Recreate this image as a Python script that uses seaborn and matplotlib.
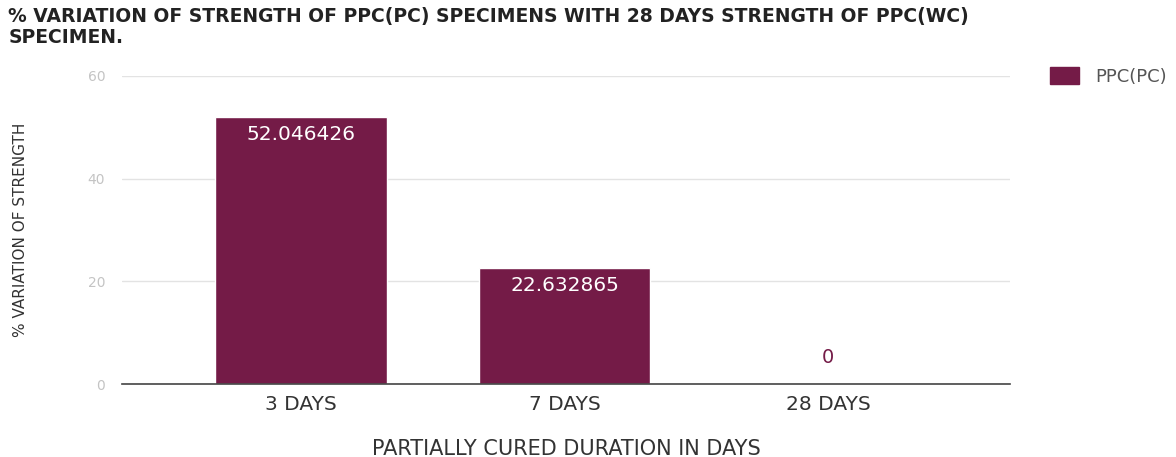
import matplotlib
matplotlib.use("Agg")
import matplotlib.pyplot as plt
from matplotlib.patches import Patch
import seaborn as sns
import pandas as pd

# Data
durations = ["3 DAYS", "7 DAYS", "28 DAYS"]
variation = [52.046426, 22.632865, 0.0]
value_labels = ["52.046426", "22.632865", "0"]
series_name = "PPC(PC)"
y_ticks = [0, 20, 40, 60]

BAR = "#741b47"

sns.set_theme(style="white")
plt.rcParams["font.family"] = ["DejaVu Sans"]

df = pd.DataFrame({"duration": durations, "variation": variation, "series": series_name})

fig = plt.figure(figsize=(11.76, 4.57), dpi=100)
ax = fig.add_axes([0.1037, 0.1597, 0.755, 0.674])

sns.barplot(data=df, x="duration", y="variation", hue="series",
            palette=[BAR], width=0.65, saturation=1, ax=ax, legend=False)

ax.set_ylim(0, 60)
ax.set_xlim(-0.68, 2.69)
ax.set_yticks(y_ticks)
ax.set_yticklabels([str(t) for t in y_ticks], color="#c4c4c4", fontsize=10)
ax.tick_params(axis="y", length=0, pad=12)
ax.tick_params(axis="x", length=0, pad=8, labelsize=14.5, labelcolor="#333333")
ax.yaxis.grid(True, color="#e3e3e3", linewidth=1)
ax.set_axisbelow(True)
for side in ["top", "right", "left"]:
    ax.spines[side].set_visible(False)
ax.spines["bottom"].set_color("#444444")
ax.spines["bottom"].set_linewidth(1.2)

# Value labels
for i, (v, lab) in enumerate(zip(variation, value_labels)):
    if v > 5:
        ax.annotate(lab, (i, v), xytext=(0, -12.5), textcoords="offset points",
                    ha="center", va="center", color="white", fontsize=14.5)
    else:
        ax.annotate(lab, (i, v), xytext=(0, 19), textcoords="offset points",
                    ha="center", va="center", color=BAR, fontsize=14)

ax.set_xlabel("PARTIALLY CURED DURATION IN DAYS", fontsize=15, color="#333333", labelpad=18)
ax.set_ylabel("% VARIATION OF STRENGTH", fontsize=11, color="#333333", labelpad=43)

fig.text(0.007, 0.985, "% VARIATION OF STRENGTH OF PPC(PC) SPECIMENS WITH 28 DAYS STRENGTH OF PPC(WC)\nSPECIMEN.",
         ha="left", va="top", fontsize=13.5, color="#222222", fontweight="bold", linespacing=1.15)

# Legend
fig.legend(handles=[Patch(facecolor=BAR, edgecolor=BAR)], labels=[series_name],
           loc="upper left", bbox_to_anchor=(0.879, 0.888), frameon=False,
           fontsize=13, labelcolor="#555555", handlelength=1.6, handleheight=1.0,
           handletextpad=0.9)

fig.savefig("out.png", dpi=100)
